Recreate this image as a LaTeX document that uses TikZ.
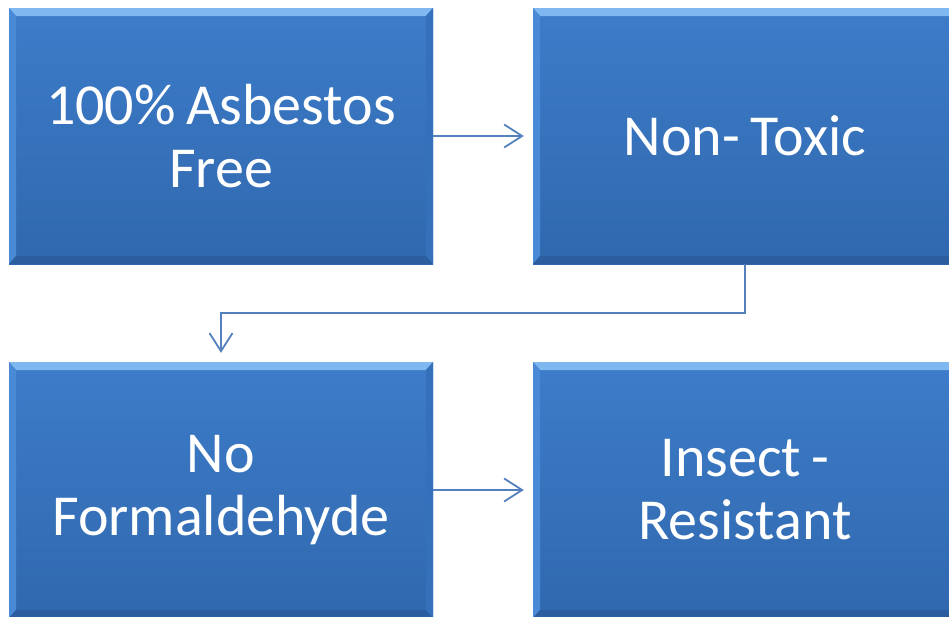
\documentclass[tikz,border=0pt]{standalone}
\usepackage{fontspec}
\setmainfont{Carlito}[WordSpace=0.8]
\usepackage{xcolor}
\usetikzlibrary{positioning, calc, arrows.meta}

\definecolor{boxtop}{HTML}{3D7CC9}
\definecolor{boxbot}{HTML}{3068AE}
\definecolor{bevtop}{HTML}{7FB8F0}
\definecolor{bevleft}{HTML}{4A89D6}
\definecolor{bevbot}{HTML}{2B5D9F}
\definecolor{bevright}{HTML}{3570BB}
\definecolor{linkblue}{HTML}{5480BD}

\tikzset{
  featbox/.style={minimum width=424pt, minimum height=256pt, inner sep=0pt,
    text width=410pt, align=flush center, text=white,
    font=\fontsize{58}{63}\selectfont,
    top color=boxtop, bottom color=boxbot,
    path picture={
      \coordinate (nw) at (path picture bounding box.north west);
      \coordinate (se) at (path picture bounding box.south east);
      \fill[bevtop] (nw) -- (nw-|se) -- ($(nw-|se)+(-7pt,-8pt)$) -- ($(nw)+(7pt,-8pt)$) -- cycle;
      \fill[bevleft] (nw) -- ($(nw)+(7pt,-8pt)$) -- ($(nw|-se)+(7pt,8pt)$) -- (nw|-se) -- cycle;
      \fill[bevbot] (nw|-se) -- ($(nw|-se)+(7pt,8pt)$) -- ($(se)+(-7pt,8pt)$) -- (se) -- cycle;
      \fill[bevright] (se) -- ($(se)+(-7pt,8pt)$) -- ($(nw-|se)+(-7pt,-8pt)$) -- (nw-|se) -- cycle;
    }},
  link/.style={draw=linkblue, line width=1.8pt, -{Straight Barb[length=18pt,width=23pt,line width=1.8pt]}}
}

\begin{document}
\begin{tikzpicture}[x=1pt, y=-1pt]
  \useasboundingbox (0,0) rectangle (949,616);
  \clip (0,0) rectangle (949,616);

  \node[featbox] (asbestos) at (221,136) {100\% Asbestos\\Free};
  \node[featbox] (toxic) at (745,136) {Non- Toxic};
  \node[featbox] (formal) at (221,490) {No\\Formaldehyde};
  \node[featbox] (insect) at (745,490) {Insect -\\Resistant};

  % connectors
  \draw[link] (asbestos.east) -- ([xshift=-9pt]toxic.west);
  \draw[link] (toxic.south) -- ++(0,49) -| ([yshift=9pt]formal.north);
  \draw[link] (formal.east) -- ([xshift=-9pt]insect.west);
\end{tikzpicture}
\end{document}
